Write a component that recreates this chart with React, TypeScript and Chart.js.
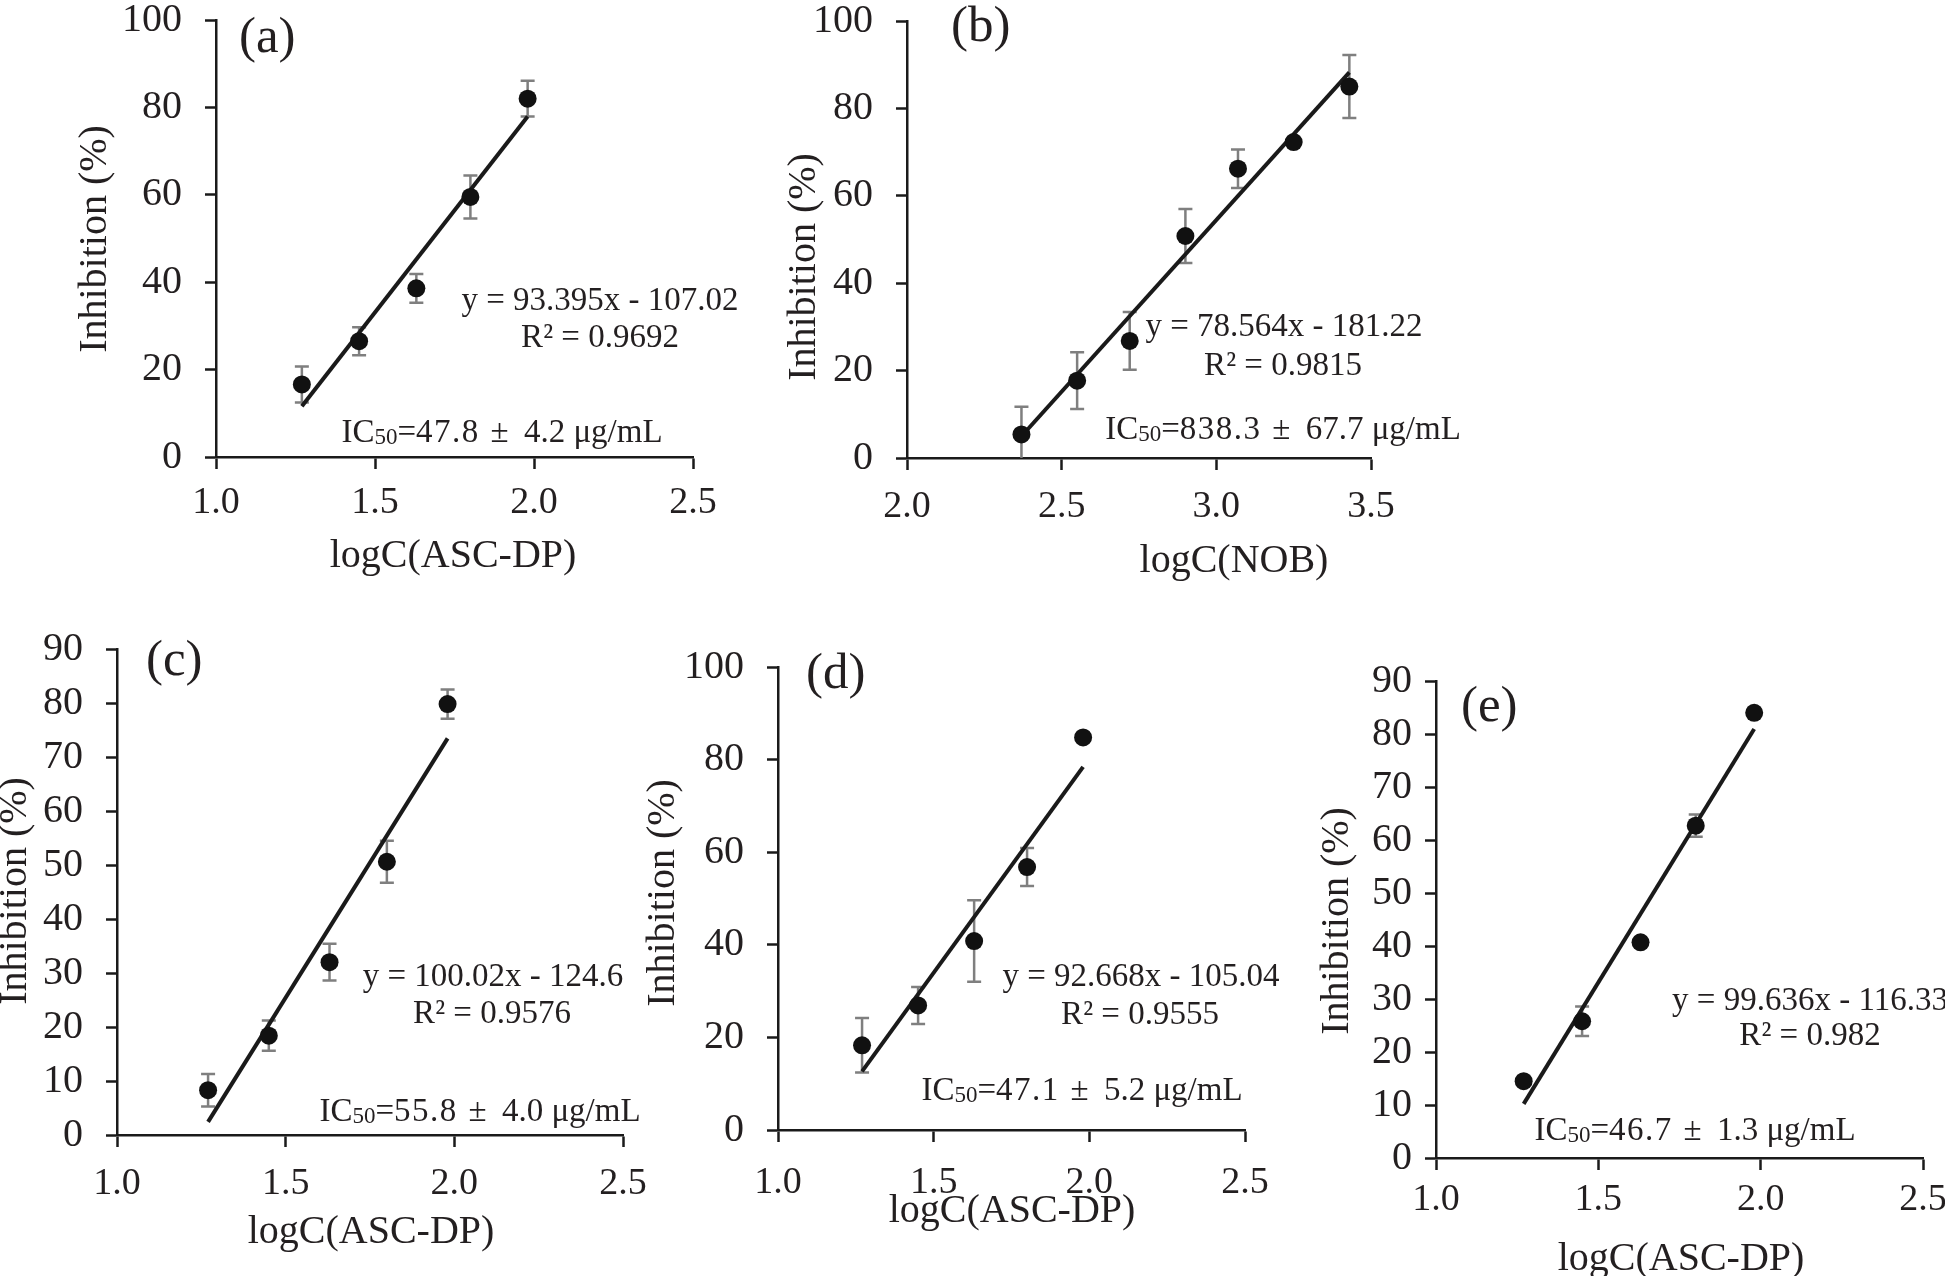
import React, { useEffect, useRef } from 'react';
import { Chart, registerables } from 'chart.js';

Chart.register(...registerables);

// ---------------- DATA ----------------
const logC_ASC = [1.27, 1.45, 1.63, 1.8, 1.98];
const logC_NOB = [2.37, 2.55, 2.72, 2.9, 3.07, 3.25, 3.43];

const inhibitionA = [16.6, 26.5, 38.6, 59.5, 82.0];
const errorA = [4.1, 3.2, 3.3, 4.9, 4.1];
const inhibitionB = [5.4, 17.7, 26.8, 50.8, 66.2, 72.3, 85.0];
const errorB = [6.3, 6.5, 6.6, 6.2, 4.4, 0.8, 7.2];
const inhibitionC = [8.3, 18.4, 32.0, 50.6, 79.8];
const errorC = [3.0, 2.8, 3.4, 3.9, 2.7];
const inhibitionD = [18.3, 26.9, 40.8, 56.8, 84.8];
const errorD = [5.9, 4.0, 8.8, 4.1, 0.5];
const inhibitionE = [14.5, 25.8, 40.7, 62.7, 84.0];
const errorE = [0.5, 2.8, 0.5, 2.1, 0.5];

const xValues = [logC_ASC, logC_NOB, logC_ASC, logC_ASC, logC_ASC];
const yValues = [inhibitionA, inhibitionB, inhibitionC, inhibitionD, inhibitionE];
const yErrors = [errorA, errorB, errorC, errorD, errorE];

const slopes = [93.395, 78.564, 100.02, 92.668, 99.636];
const intercepts = [-107.02, -181.22, -124.6, -105.04, -116.33];

const equationLabels = [
  'y = 93.395x - 107.02',
  'y = 78.564x - 181.22',
  'y = 100.02x - 124.6',
  'y = 92.668x - 105.04',
  'y = 99.636x - 116.33',
];
const r2Labels = ['R² = 0.9692', 'R² = 0.9815', 'R² = 0.9576', 'R² = 0.9555', 'R² = 0.982'];
const ic50Values = ['47.8', '838.3', '55.8', '47.1', '46.7'];
const ic50Errors = ['4.2', '67.7', '4.0', '5.2', '1.3'];
const panelLabels = ['(a)', '(b)', '(c)', '(d)', '(e)'];
const xTitles = ['logC(ASC-DP)', 'logC(NOB)', 'logC(ASC-DP)', 'logC(ASC-DP)', 'logC(ASC-DP)'];
const yTitle = 'Inhibition (%)';

const xMins = [1.0, 2.0, 1.0, 1.0, 1.0];
const xMaxes = [2.5, 3.5, 2.5, 2.5, 2.5];
const xSteps = [0.5, 0.5, 0.5, 0.5, 0.5];
const yMaxes = [100, 100, 90, 100, 90];
const ySteps = [20, 20, 10, 20, 10];

// ---------------- LAYOUT / STYLE ----------------
const FONT = '"Liberation Serif", "Times New Roman", serif';
const TEXT = '#231f20';
const AXIS = '#1a1a1a';
const ERR = '#7f7f7f';
const ANN_SIZE = 33;
const SUB_SIZE = 23;
const TITLE_SIZE = 40;
const LABEL_SIZE = 51;
const Y_TICK_SIZE = 40;
const X_TICK_SIZE = 38;

const PAD_L = 180;
const PAD_T = 40;
const PAD_R = 100;
const PAD_B = 150;

type P = [number, number];
type PanelLayout = {
  area: [number, number, number, number];
  yTickPad: number;
  xTickPad: number;
  eq: P;
  r2: P;
  ic: P;
  label: P;
  yTitlePos: P;
  xTitlePos: P;
};

const layouts: PanelLayout[] = [
  { area: [216, 13, 693, 457], yTickPad: 23, xTickPad: 11,
    eq: [600, 301], r2: [600, 338], ic: [502, 431], label: [239, 39], yTitlePos: [95, 239], xTitlePos: [453, 556] },
  { area: [907, 14, 1371, 458], yTickPad: 23, xTickPad: 14,
    eq: [1284, 327], r2: [1283, 366], ic: [1283, 428], label: [951, 28], yTitlePos: [804, 267], xTitlePos: [1234, 561] },
  { area: [117, 642, 623, 1135], yTickPad: 23, xTickPad: 14,
    eq: [493, 977], r2: [492, 1014], ic: [480, 1110], label: [146, 662], yTitlePos: [15, 891], xTitlePos: [371, 1232] },
  { area: [778, 660, 1245, 1130], yTickPad: 23, xTickPad: 18,
    eq: [1141, 977], r2: [1140, 1015], ic: [1082, 1089], label: [806, 675], yTitlePos: [663, 893], xTitlePos: [1012, 1211] },
  { area: [1436, 681, 1923, 1158], yTickPad: 13, xTickPad: 7,
    eq: [1810, 1001], r2: [1810, 1036], ic: [1695, 1129], label: [1461, 708], yTitlePos: [1337, 921], xTitlePos: [1681, 1259] },
];

type Seg = { t: string; size: number; dy: number; ls: number; after: number };

function segWidth(ctx: CanvasRenderingContext2D, s: Seg) {
  ctx.font = `${s.size}px ${FONT}`;
  if (s.ls === 0) return ctx.measureText(s.t).width + s.after;
  let w = 0;
  const chars = Array.from(s.t);
  chars.forEach((c, i) => {
    w += ctx.measureText(c).width + (i < chars.length - 1 ? s.ls : 0);
  });
  return w + s.after;
}

function drawSeg(ctx: CanvasRenderingContext2D, s: Seg, x: number, y: number) {
  ctx.font = `${s.size}px ${FONT}`;
  if (s.ls === 0) {
    ctx.fillText(s.t, x, y + s.dy);
    return;
  }
  let cx = x;
  Array.from(s.t).forEach((c) => {
    ctx.fillText(c, cx, y + s.dy);
    cx += ctx.measureText(c).width + s.ls;
  });
}

function Panel({ idx }: { idx: number }) {
  const ref = useRef<HTMLCanvasElement | null>(null);
  const lay = layouts[idx];
  const [L, T, R, B] = lay.area;
  const left = L - PAD_L;
  const top = T - PAD_T;
  const W = R - L + PAD_L + PAD_R;
  const H = B - T + PAD_T + PAD_B;

  useEffect(() => {
    if (!ref.current) return;
    const xs = xValues[idx];
    const ys = yValues[idx];
    const es = yErrors[idx];
    const points = xs.map((x, i) => ({ x, y: ys[i] }));
    const xLo = Math.min(...xs);
    const xHi = Math.max(...xs);
    const trend = [xLo, xHi].map((x) => ({ x, y: slopes[idx] * x + intercepts[idx] }));

    const decor = {
      id: 'decor' + idx,
      beforeDatasetsDraw(chart: any) {
        const { ctx, chartArea, scales } = chart;
        const sx = scales.x;
        const sy = scales.y;
        ctx.save();
        ctx.beginPath();
        ctx.rect(chartArea.left, chartArea.top - 30, chartArea.right - chartArea.left, chartArea.bottom - chartArea.top + 30);
        ctx.clip();
        ctx.strokeStyle = ERR;
        ctx.lineWidth = 2.5;
        const cap = 7;
        xs.forEach((xv, i) => {
          const px = sx.getPixelForValue(xv);
          const pTop = sy.getPixelForValue(ys[i] + es[i]);
          const pBot = sy.getPixelForValue(ys[i] - es[i]);
          ctx.beginPath();
          ctx.moveTo(px, pTop);
          ctx.lineTo(px, pBot);
          ctx.moveTo(px - cap, pTop);
          ctx.lineTo(px + cap, pTop);
          ctx.moveTo(px - cap, pBot);
          ctx.lineTo(px + cap, pBot);
          ctx.stroke();
        });
        ctx.restore();
      },
      afterDraw(chart: any) {
        const ctx = chart.ctx as CanvasRenderingContext2D;
        const ox = left;
        const oy = top;
        ctx.save();
        ctx.fillStyle = TEXT;
        ctx.textBaseline = 'middle';
        ctx.textAlign = 'center';
        ctx.font = `${ANN_SIZE}px ${FONT}`;
        ctx.fillText(equationLabels[idx], lay.eq[0] - ox, lay.eq[1] - oy);
        ctx.fillText(r2Labels[idx], lay.r2[0] - ox, lay.r2[1] - oy);

        // IC50 line with subscript
        const segs: Seg[] = [
          { t: 'IC', size: ANN_SIZE, dy: 0, ls: 0, after: 0 },
          { t: '50', size: SUB_SIZE, dy: 2, ls: 0, after: 0 },
          { t: '=', size: ANN_SIZE, dy: 0, ls: 0, after: 0 },
          { t: ic50Values[idx], size: ANN_SIZE, dy: 0, ls: 1.5, after: 4 },
          { t: ' ± ', size: ANN_SIZE, dy: 0, ls: 0, after: 7 },
          { t: `${ic50Errors[idx]} μg/mL`, size: ANN_SIZE, dy: 0, ls: 0, after: 0 },
        ];
        const widths = segs.map((s) => segWidth(ctx, s));
        const total = widths.reduce((a, b) => a + b, 0);
        let cx = lay.ic[0] - ox - total / 2;
        const baseY = lay.ic[1] - oy + ANN_SIZE * 0.34;
        ctx.textAlign = 'left';
        ctx.textBaseline = 'alphabetic';
        segs.forEach((s, i) => {
          drawSeg(ctx, s, cx, baseY);
          cx += widths[i];
        });

        // panel label
        ctx.textBaseline = 'middle';
        ctx.textAlign = 'left';
        ctx.font = `${LABEL_SIZE}px ${FONT}`;
        ctx.fillText(panelLabels[idx], lay.label[0] - ox, lay.label[1] - oy);

        // axis titles
        ctx.textAlign = 'center';
        ctx.font = `${TITLE_SIZE}px ${FONT}`;
        ctx.fillText(xTitles[idx], lay.xTitlePos[0] - ox, lay.xTitlePos[1] - oy);
        ctx.translate(lay.yTitlePos[0] - ox, lay.yTitlePos[1] - oy);
        ctx.rotate(-Math.PI / 2);
        ctx.fillText(yTitle, 0, 0);
        ctx.restore();
      },
    };

    const chart = new Chart(ref.current, {
      type: 'scatter',
      data: {
        datasets: [
          {
            data: points,
            backgroundColor: '#111111',
            borderColor: '#111111',
            pointRadius: 9,
            pointHoverRadius: 9,
            borderWidth: 0,
          },
          {
            data: trend,
            showLine: true,
            borderColor: '#1a1a1a',
            borderWidth: 4,
            pointRadius: 0,
            pointHoverRadius: 0,
            fill: false,
          },
        ],
      },
      options: {
        animation: false,
        responsive: false,
        maintainAspectRatio: false,
        devicePixelRatio: 1,
        events: [],
        layout: { padding: { left: 0, top: PAD_T, right: PAD_R, bottom: 0 } },
        plugins: { legend: { display: false }, tooltip: { enabled: false } },
        scales: {
          x: {
            type: 'linear',
            position: 'bottom',
            min: xMins[idx],
            max: xMaxes[idx],
            afterFit: (s: any) => {
              s.height = PAD_B;
            },
            ticks: {
              stepSize: xSteps[idx],
              autoSkip: false,
              maxRotation: 0,
              minRotation: 0,
              padding: lay.xTickPad,
              color: TEXT,
              font: { family: FONT, size: X_TICK_SIZE },
              callback: (v: any) => Number(v).toFixed(1),
            },
            grid: {
              display: true,
              drawOnChartArea: false,
              drawTicks: true,
              tickLength: 12,
              tickWidth: 2.5,
              tickColor: AXIS,
              color: AXIS,
            },
            border: { display: true, color: AXIS, width: 2.5 },
          },
          y: {
            type: 'linear',
            position: 'left',
            min: 0,
            max: yMaxes[idx],
            afterFit: (s: any) => {
              s.width = PAD_L;
            },
            ticks: {
              stepSize: ySteps[idx],
              autoSkip: false,
              padding: lay.yTickPad,
              color: TEXT,
              font: { family: FONT, size: Y_TICK_SIZE },
              callback: (v: any) => String(v),
            },
            grid: {
              display: true,
              drawOnChartArea: false,
              drawTicks: true,
              tickLength: 11,
              tickWidth: 2.5,
              tickColor: AXIS,
              color: AXIS,
            },
            border: { display: true, color: AXIS, width: 2.5 },
          },
        },
      },
      plugins: [decor],
    } as any);
    return () => chart.destroy();
  }, [idx]);

  return (
    <canvas
      ref={ref}
      width={W}
      height={H}
      style={{ position: 'absolute', left, top, width: W, height: H, display: 'block' }}
    />
  );
}

export default function App() {
  return (
    <div
      style={{
        position: 'absolute',
        left: 0,
        top: 0,
        width: 1945,
        height: 1276,
        overflow: 'hidden',
        background: '#ffffff',
      }}
    >
      {[0, 1, 2, 3, 4].map((i) => (
        <Panel key={i} idx={i} />
      ))}
    </div>
  );
}
